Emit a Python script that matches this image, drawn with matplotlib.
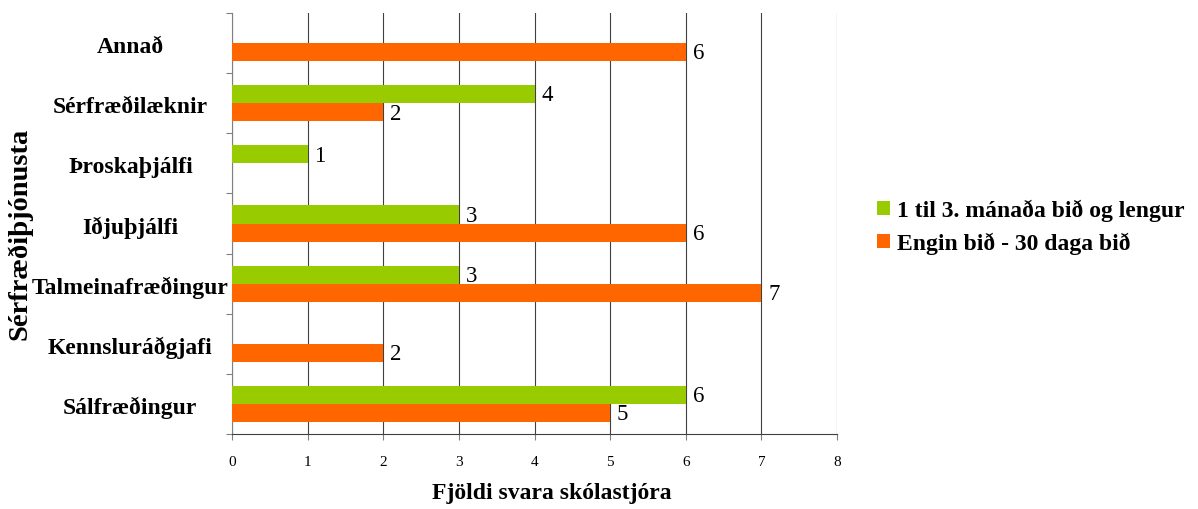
import numpy as np
import matplotlib
matplotlib.use('Agg')
import matplotlib.pyplot as plt
from matplotlib.transforms import blended_transform_factory

plt.rcParams['font.family'] = ['Liberation Serif', 'DejaVu Serif']

# ── Gögn ─────────────────────────────────────────────────────────────────────
flokkar = ['Sálfræðingur', 'Kennsluráðgjafi', 'Talmeinafræðingur', 'Iðjuþjálfi',
           'Þroskaþjálfi', 'Sérfræðilæknir', 'Annað']
bid_lengi = [6, 0, 3, 3, 1, 4, 0]     # 1 til 3. mánaða bið og lengur
bid_stutt = [5, 2, 7, 6, 0, 2, 6]     # Engin bið - 30 daga bið
x_ticks = [0, 1, 2, 3, 4, 5, 6, 7, 8]

GREEN = '#99CC00'
ORANGE = '#FF6600'

fig = plt.figure(figsize=(11.98, 5.09), dpi=100)
ax = fig.add_axes([232 / 1198, 1 - 434 / 509, 605 / 1198, 421 / 509])

y = np.arange(len(flokkar))
h = 0.3
ax.barh(y + h / 2, bid_lengi, height=h, color=GREEN, zorder=3,
        label='1 til 3. mánaða bið og lengur')
ax.barh(y - h / 2, bid_stutt, height=h, color=ORANGE, zorder=3,
        label='Engin bið - 30 daga bið')

# gildismerki (aðeins fyrir gildi > 0)
for yi, v in zip(y, bid_lengi):
    if v:
        ax.text(v + 0.09, yi + h / 2 - 0.03, str(v), va='center', ha='left',
                fontsize=16.5)
for yi, v in zip(y, bid_stutt):
    if v:
        ax.text(v + 0.09, yi - h / 2 - 0.03, str(v), va='center', ha='left',
                fontsize=16.5)

ax.set_xlim(0, 8)
ax.set_ylim(-0.5, len(flokkar) - 0.5)
ax.set_xticks(x_ticks)
ax.set_xticklabels([str(t) for t in x_ticks], fontsize=11)
ax.tick_params(axis='x', length=4, pad=12, color='#808080')
ax.grid(axis='x', color='#404040', lw=0.8, zorder=0)

# y-ás: merki á mörkum flokka, nöfn miðjuð til vinstri
ax.set_yticks(np.arange(-0.5, len(flokkar), 1.0))
ax.set_yticklabels([])
ax.tick_params(axis='y', length=4, color='#808080')
trans = blended_transform_factory(ax.transAxes, ax.transData)
for yi, name in zip(y, flokkar):
    ax.text(-0.168, yi - 0.07, name, transform=trans, ha='center', va='center',
            fontsize=17, fontweight='bold')

for s in ['top', 'right']:
    ax.spines[s].set_visible(False)
ax.spines['left'].set_color('#808080')
ax.spines['bottom'].set_color('#404040')

fig.text(20 / 1198, 1 - 234 / 509, 'Sérfræðiþjónusta', rotation=90,
         ha='center', va='center', fontsize=20.5, fontweight='bold')
fig.text(552 / 1198, 1 - 494 / 509, 'Fjöldi svara skólastjóra',
         ha='center', va='center', fontsize=17, fontweight='bold')

leg = fig.legend(loc='center left', bbox_to_anchor=(856 / 1198, 1 - 227 / 509),
                 frameon=False, prop={'weight': 'bold', 'size': 17},
                 handlelength=0.55, handleheight=0.55, handletextpad=0.3,
                 labelspacing=0.45)

fig.savefig('out.png', dpi=100)
